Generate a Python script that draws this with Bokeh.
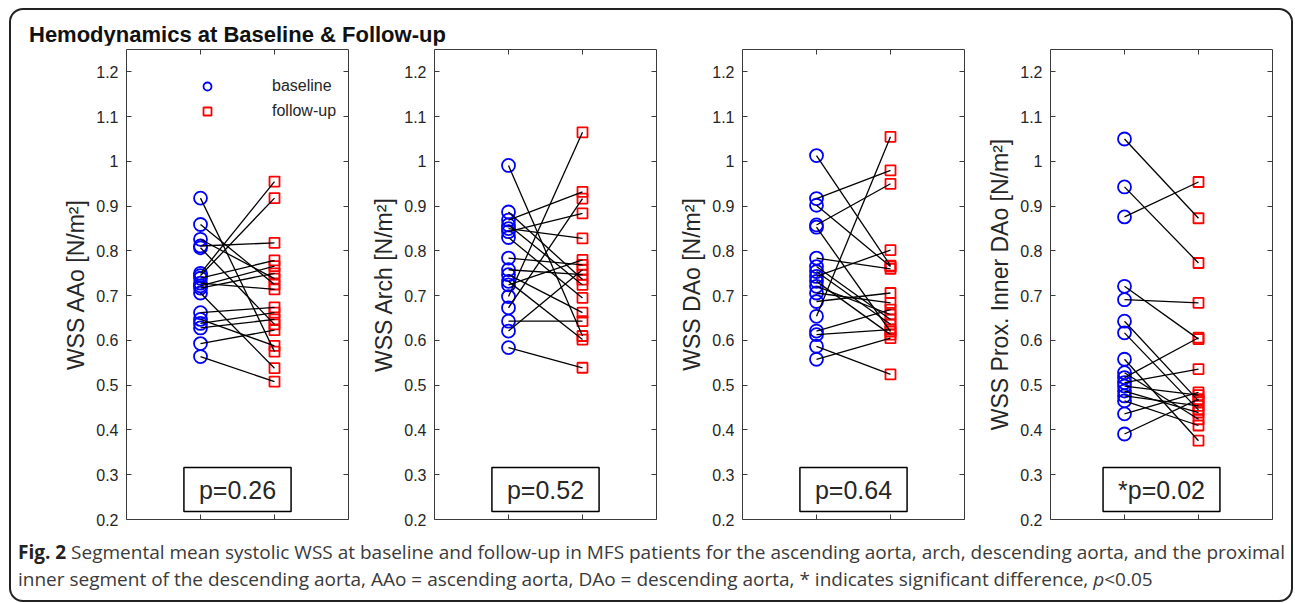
from bokeh.plotting import figure
from bokeh.models import (Range1d, FixedTicker, LinearAxis, Legend, LegendItem,
                          Label, Div, Spacer, ColumnDataSource)
from bokeh.layouts import row, column
from bokeh.embed import file_html
from bokeh.resources import INLINE

# ---------------- data ----------------
title_text = "Hemodynamics at Baseline &amp; Follow-up"
y_labels = ["WSS AAo [N/m²]", "WSS Arch [N/m²]", "WSS DAo [N/m²]", "WSS Prox. Inner DAo [N/m²]"]
p_texts = ["p=0.26", "p=0.52", "p=0.64", "*p=0.02"]
legend_labels = ["baseline", "follow-up"]
x_groups = [1, 2]
y_ticks = [0.2, 0.3, 0.4, 0.5, 0.6, 0.7, 0.8, 0.9, 1.0, 1.1, 1.2]
y_tick_labels = ["0.2", "0.3", "0.4", "0.5", "0.6", "0.7", "0.8", "0.9", "1", "1.1", "1.2"]

aao_baseline = [0.918, 0.859, 0.826, 0.811, 0.807, 0.750, 0.745, 0.739, 0.728,
                0.722, 0.717, 0.706, 0.662, 0.647, 0.638, 0.628, 0.593, 0.564]
aao_followup = [0.575, 0.725, 0.738, 0.818, 0.636, 0.955, 0.918, 0.779, 0.714,
                0.766, 0.750, 0.538, 0.674, 0.588, 0.662, 0.647, 0.623, 0.508]

arch_baseline = [0.991, 0.887, 0.869, 0.858, 0.850, 0.843, 0.830, 0.784, 0.758,
                 0.747, 0.732, 0.724, 0.698, 0.673, 0.643, 0.621, 0.584]
arch_followup = [0.610, 0.736, 0.932, 0.724, 0.828, 0.884, 0.695, 0.769, 0.747,
                 0.662, 0.602, 0.780, 1.065, 0.917, 0.643, 0.758, 0.539]

dao_baseline = [1.013, 0.917, 0.902, 0.858, 0.853, 0.784, 0.765, 0.754, 0.743,
                0.732, 0.721, 0.706, 0.687, 0.654, 0.621, 0.613, 0.587, 0.558]
dao_followup = [0.767, 0.980, 0.765, 0.950, 0.620, 0.760, 0.647, 0.636, 0.802,
                0.613, 0.658, 0.684, 0.706, 1.055, 0.669, 0.624, 0.524, 0.605]

pid_baseline = [1.050, 0.943, 0.876, 0.721, 0.691, 0.643, 0.617, 0.558, 0.528,
                0.517, 0.506, 0.498, 0.487, 0.476, 0.465, 0.436, 0.391]
pid_followup = [0.873, 0.773, 0.954, 0.603, 0.684, 0.465, 0.445, 0.376, 0.424,
                0.606, 0.536, 0.478, 0.439, 0.454, 0.410, 0.484, 0.469]

panels = [(aao_baseline, aao_followup), (arch_baseline, arch_followup),
          (dao_baseline, dao_followup), (pid_baseline, pid_followup)]

caption_line1 = ("Segmental mean systolic WSS at baseline and follow-up in MFS patients for the "
                 "ascending aorta, arch, descending aorta, and the proximal")
caption_line2 = ("inner segment of the descending aorta, AAo = ascending aorta, DAo = descending aorta, "
                 "* indicates significant difference, <i>p</i>&lt;0.05")

# ---------------- styling ----------------
AX = "#3a3a3a"
TXT = "#262626"
FONT = "Liberation Sans"
overrides = {t: l for t, l in zip(y_ticks, y_tick_labels)}


def style_axis(ax, labels):
    ax.axis_line_color = AX
    ax.axis_line_width = 1
    ax.major_tick_line_color = AX
    ax.major_tick_in = 5
    ax.major_tick_out = 0
    ax.minor_tick_in = 0
    ax.minor_tick_out = 0
    ax.major_label_text_font = FONT
    ax.major_label_text_font_size = "16px"
    ax.major_label_text_color = TXT
    if labels:
        ax.major_label_standoff = 8
    else:
        ax.major_label_standoff = 0


def make_panel(i):
    base, foll = panels[i]
    p = figure(frame_width=222, frame_height=470,
               min_border_left=85, min_border_right=1,
               min_border_top=4, min_border_bottom=14,
               x_range=Range1d(0, 3), y_range=Range1d(0.2, 1.25),
               x_axis_location=None, y_axis_location=None,
               output_backend="svg", toolbar_location=None)
    p.grid.visible = False
    p.outline_line_color = None
    p.background_fill_color = "white"
    p.border_fill_color = "white"

    left = LinearAxis(ticker=FixedTicker(ticks=y_ticks), major_label_overrides=overrides)
    style_axis(left, True)
    left.axis_label = y_labels[i]
    left.axis_label_text_font = FONT
    left.axis_label_text_font_size = "23px"
    left.axis_label_text_font_style = "normal"
    left.axis_label_text_color = TXT
    left.axis_label_standoff = 4
    p.add_layout(left, "left")

    right = LinearAxis(ticker=FixedTicker(ticks=y_ticks),
                       major_label_overrides={t: "" for t in y_ticks})
    style_axis(right, False)
    p.add_layout(right, "right")

    top = LinearAxis(ticker=FixedTicker(ticks=x_groups),
                     major_label_overrides={t: "" for t in x_groups})
    style_axis(top, False)
    p.add_layout(top, "above")

    bottom = LinearAxis(ticker=FixedTicker(ticks=x_groups),
                        major_label_overrides={t: "" for t in x_groups})
    style_axis(bottom, False)
    p.add_layout(bottom, "below")

    src = ColumnDataSource(dict(
        xb=[x_groups[0]] * len(base), yb=base,
        xf=[x_groups[1]] * len(foll), yf=foll))
    c = p.scatter("xb", "yb", source=src, marker="circle", size=13,
                  fill_color=None, line_color="#0000ff", line_width=1.8)
    s = p.scatter("xf", "yf", source=src, marker="square", size=10,
                  fill_color=None, line_color="#ff0000", line_width=1.8)
    p.segment(x0="xb", y0="yb", x1="xf", y1="yf", source=src,
              line_color="black", line_width=1.3)

    lab = Label(x=1.5, y=0.267, text=p_texts[i], text_align="center",
                text_baseline="middle", text_font=FONT, text_font_size="25px",
                text_color=TXT, border_line_color="black", border_line_width=1.5,
                background_fill_color="white",
                padding=dict(left=15, right=15, top=8, bottom=8))
    p.add_layout(lab)

    if i == 0:
        leg = Legend(items=[LegendItem(label=legend_labels[0], renderers=[c]),
                            LegendItem(label=legend_labels[1], renderers=[s])],
                     location=(71, 398), glyph_width=20, glyph_height=20,
                     label_standoff=55, padding=0, margin=0, spacing=5,
                     border_line_color=None, background_fill_alpha=0,
                     label_text_font=FONT, label_text_font_size="16px",
                     label_text_color=TXT)
        p.add_layout(leg)
    return p


figs = [make_panel(i) for i in range(4)]

title_div = Div(text=('<div style="font-family:\'Liberation Sans\',Arial,sans-serif;font-weight:bold;'
                      'font-size:22px;line-height:22px;color:#111;padding-top:14px;padding-left:18px;'
                      'white-space:nowrap;">' + title_text + '</div>'),
                width=1280, height=35, margin=0)

caption_div = Div(text=('<div style="font-family:\'Open Sans\',sans-serif;font-size:19px;line-height:26.7px;'
                        'color:#3a3a3a;white-space:nowrap;padding-top:6px;padding-left:7px;">'
                        '<b style="color:#222">Fig. 2</b> ' + caption_line1 + '<br>' + caption_line2 + '</div>'),
                  width=1280, height=67, margin=0)

plots_row = row(Spacer(width=30, height=488, margin=0), *figs, margin=0)
root = column(title_div, plots_row, caption_div, margin=(8, 0, 0, 9),
              styles={"border": "2px solid #222", "border-radius": "14px"})

open("out.html", "w").write(file_html(root, INLINE))
